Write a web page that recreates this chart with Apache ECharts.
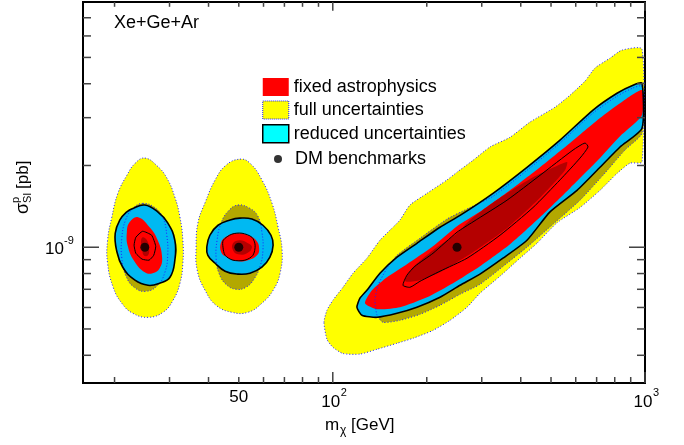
<!DOCTYPE html>
<html>
<head>
<meta charset="utf-8">
<script src="https://cdn.jsdelivr.net/npm/echarts@6/dist/echarts.min.js"></script>
<style>
  html, body { margin: 0; padding: 0; background: #fff; }
  #chart { width: 684px; height: 445px; }
</style>
</head>
<body>
<div id="chart"></div>
<script>
// axis ranges (m in GeV, sigma in pb)
const X_MIN = Math.pow(10, 1.2), X_MAX = 1000;
const Y_MIN = Math.pow(10, -9.5), Y_MAX = 8e-9;
const SIGMA_UNIT = 1e-9; // contour sigma values below are in units of 1e-9 pb

const benchmarkMass = [25, 50, 250];
const benchmarkSigma = [1e-9, 1e-9, 1e-9];

// contours, one polygon per benchmark: [mass, sigma/1e-9]
const fullOuter = [
  [[25.0,2.13],[27.3,2.0],[29.4,1.80],[31.2,1.53],[32.4,1.29],[33.1,1.06],[33.1,0.873],[32.4,0.737],[30.8,0.638],[28.6,0.576],[25.6,0.552],[22.9,0.571],[21.1,0.622],[19.8,0.712],[19.0,0.873],[19.0,1.06],[19.6,1.29],[20.5,1.58],[21.9,1.84],[23.3,2.04]],
  [[50.4,2.11],[54.3,2.04],[59.3,1.77],[63.9,1.45],[66.8,1.185],[68.8,0.975],[67.8,0.802],[64.4,0.694],[59.3,0.622],[53.5,0.576],[47.5,0.576],[42.3,0.611],[39.0,0.694],[36.8,0.823],[36.5,1.0],[37.0,1.23],[39.0,1.46],[42.0,1.77],[45.5,2.005]],
  [[93.7,0.529],[95.8,0.586],[100.1,0.638],[107.8,0.712],[116.1,0.802],[128.6,0.911],[141.6,1.061],[154.7,1.175],[164.2,1.26],[176.7,1.43],[200.4,1.58],[232.2,1.77],[250,1.89],[281.3,2.09],[318.8,2.34],[369.5,2.54],[428.2,2.89],[515,3.28],[575.2,3.63],[642.5,4.09],[691.6,4.57],[772.6,4.97],[844,5.32],[978,5.365],[978,2.06],[895,2.04],[813.5,1.87],[717.7,1.62],[619.3,1.40],[522.6,1.23],[450.9,1.034],[397.8,0.911],[343.2,0.782],[296.1,0.677],[269.1,0.601],[237.4,0.538],[209.4,0.494],[180.6,0.462],[160.6,0.443],[138.6,0.421],[122.2,0.404],[107.8,0.406],[100.1,0.428],[95.8,0.458]]
];
const fullInner = [
  [[24.6,1.45],[26.9,1.40],[28.6,1.28],[29.4,1.107],[29.6,0.934],[29.0,0.809],[27.5,0.724],[25.2,0.688],[23.1,0.712],[21.7,0.789],[21.1,0.911],[21.1,1.079],[21.7,1.26],[22.9,1.39]],
  [[49.7,1.43],[54.3,1.39],[57.6,1.30],[59.3,1.136],[59.75,0.975],[58.5,0.851],[55.9,0.762],[52.7,0.712],[49.0,0.70],[45.5,0.73],[43.2,0.802],[42.3,0.911],[42.6,1.061],[43.9,1.23],[46.3,1.36]],
  [[136.5,0.638],[139.6,0.724],[149.2,0.837],[160.6,0.934],[190.2,1.079],[232.2,1.27],[275.1,1.40],[326,1.54],[418.8,1.92],[534.3,2.42],[681.5,3.12],[813.5,3.60],[915.4,3.86],[978,3.92],[978,2.63],[862.9,2.28],[733.7,1.84],[619.3,1.49],[507.4,1.215],[418.8,1.0],[361.4,0.873],[296.1,0.730],[255.6,0.671],[220.5,0.611],[190.2,0.566],[164.2,0.538],[144.8,0.529],[138.6,0.562]]
];
const reducedOuter = [
  [[22.9,1.39],[25.0,1.43],[27.5,1.35],[29.6,1.23],[31.2,1.061],[31.2,0.896],[30.1,0.775],[27.9,0.737],[25.6,0.724],[23.25,0.756],[21.25,0.844],[20.3,0.975],[20.1,1.126],[20.8,1.26],[21.9,1.35]],
  [[39.5,1.0],[40.4,1.107],[42.9,1.205],[46.9,1.26],[50.4,1.28],[55.1,1.27],[59.75,1.205],[63.4,1.107],[64.4,1.017],[62.9,0.919],[59.3,0.844],[54.3,0.802],[49.7,0.796],[45.2,0.816],[42.0,0.873],[39.8,0.934]],
  [[119.5,0.601],[122.2,0.649],[128.6,0.694],[141.6,0.802],[160.6,0.919],[186,1.034],[220.5,1.185],[255.6,1.31],[326,1.58],[418.8,1.97],[534.3,2.48],[681.5,3.20],[813.5,3.69],[915.4,3.95],[978,4.02],[978,2.74],[831.7,2.34],[717.7,1.97],[605.7,1.62],[496.3,1.35],[418.8,1.061],[350.8,0.911],[296.1,0.796],[255.6,0.724],[220.5,0.654],[186,0.601],[160.6,0.571],[138.6,0.552],[124,0.562]]
];
const fixedOuter = [
  [[23.8,1.29],[25.9,1.185],[27.5,1.061],[28.4,0.919],[27.9,0.837],[26.5,0.802],[25.0,0.809],[23.25,0.881],[22.1,1.0],[21.9,1.136],[22.4,1.24]],
  [[43.9,1.043],[45.8,1.098],[49.3,1.126],[53.5,1.107],[56.8,1.061],[58.1,0.992],[57.2,0.934],[53.5,0.896],[49.3,0.889],[45.8,0.919],[43.9,0.958]],
  [[126.8,0.622],[138.6,0.591],[164.2,0.601],[200.4,0.654],[242.7,0.737],[296.1,0.851],[369.5,1.026],[461,1.29],[575.2,1.65],[717.7,2.13],[831.7,2.56],[978,3.06],[978,3.79],[831.7,3.39],[717.7,2.99],[575.2,2.42],[461,1.97],[369.5,1.62],[296.1,1.35],[250,1.195],[209.4,1.008],[172.8,0.866],[149.2,0.775],[133.5,0.694]]
];
const fixedInner = [
  [[24.6,1.088],[25.4,1.061],[25.8,0.992],[25.6,0.934],[24.8,0.934],[24.5,0.992],[24.3,1.043]],
  [[47.9,1.034],[50.4,1.061],[53.5,1.034],[55.1,1.0],[53.1,0.950],[49.7,0.942],[47.9,0.975]],
  [[170.3,0.749],[179.3,0.837],[209.4,0.975],[250,1.126],[275.1,1.26],[343.2,1.52],[437.8,1.81],[562.6,2.06],[554.4,1.92],[461,1.52],[361.4,1.175],[281.3,0.958],[250,0.881],[220.5,0.809],[190.2,0.756]]
];
const reducedInner = [
  [[24.6,1.145],[26.3,1.107],[27.1,1.008],[26.7,0.934],[25.8,0.896],[24.5,0.904],[23.4,0.950],[23.1,1.017],[23.4,1.088]],
  [[44.6,1.061],[47.5,1.117],[51.2,1.126],[55.1,1.088],[56.4,1.017],[55.5,0.934],[52.3,0.896],[47.9,0.896],[45.2,0.934],[44.5,1.0]],
  [[167.8,0.724],[172.8,0.789],[183.3,0.851],[209.4,0.950],[250,1.136],[281.3,1.24],[361.4,1.49],[461,1.84],[588.2,2.28],[642.5,2.42],[657,2.34],[619.3,2.13],[534.3,1.77],[437.8,1.40],[343.2,1.107],[269.1,0.911],[220.5,0.816],[190.2,0.749],[176.7,0.712]]
];

// ticks and tick labels
const xMinorTicks = [20, 30, 40, 50, 60, 70, 80, 90, 200, 300, 400, 500, 600, 700, 800, 900];
const xMajorTicks = [100, 1000];
const yMinorTicks = [4e-10, 5e-10, 6e-10, 7e-10, 8e-10, 9e-10, 2e-9, 3e-9, 4e-9, 5e-9, 6e-9, 7e-9];
const yMajorTicks = [1e-9];
const xTickLabels = [
  { value: 50, base: '50', exp: '' },
  { value: 100, base: '10', exp: '2' },
  { value: 1000, base: '10', exp: '3' }
];
const yTickLabels = [{ value: 1e-9, base: '10', exp: '-9' }];

const FONT = '"Liberation Sans", Arial, Helvetica, sans-serif';
const SMOOTH = [0.45, 0.45, 0.2];

function contourSeries(name, polys, style, z, smooth) {
  return {
    type: 'custom',
    name: name,
    coordinateSystem: 'cartesian2d',
    z: z,
    silent: true,
    data: polys.map(p => [p[0][0], p[0][1] * SIGMA_UNIT]),
    encode: { x: 0, y: 1 },
    renderItem: function (params, api) {
      const pts = polys[params.dataIndex].map(d => api.coord([d[0], d[1] * SIGMA_UNIT]));
      return {
        type: 'polygon',
        shape: { points: pts, smooth: smooth[params.dataIndex] },
        style: style
      };
    }
  };
}

function txt(x, y, text, size, align, valign) {
  return {
    type: 'text', x: x, y: y, silent: true,
    style: { text: text, fill: '#000', fontSize: size, fontFamily: FONT, align: align, verticalAlign: valign }
  };
}

function renderFrameTicks(params, api) {
  const ch = [];
  const line = (a, b) => ch.push({
    type: 'line',
    shape: { x1: a[0], y1: a[1], x2: b[0], y2: b[1] },
    style: { stroke: '#444', lineWidth: 1.5 }
  });
  const xTick = (v, len) => {
    const b = api.coord([v, Y_MIN]), t = api.coord([v, Y_MAX]);
    line(b, [b[0], b[1] - len]);
    line(t, [t[0], t[1] + len * 0.8]);
  };
  const yTick = (v, len) => {
    const l = api.coord([X_MIN, v]), r = api.coord([X_MAX, v]);
    line(l, [l[0] + len, l[1]]);
    line(r, [r[0] - len, r[1]]);
  };
  xMinorTicks.forEach(v => xTick(v, 6));
  xMajorTicks.forEach(v => xTick(v, 11));
  yMinorTicks.forEach(v => yTick(v, 8));
  yMajorTicks.forEach(v => yTick(v, 16));

  xTickLabels.forEach(l => {
    const p = api.coord([l.value, Y_MIN]);
    if (l.exp) {
      ch.push(txt(p[0] - 2, p[1] + 19, l.base, 17, 'center', 'middle'));
      ch.push(txt(p[0] + 8, p[1] + 10, l.exp, 11, 'left', 'middle'));
    } else {
      ch.push(txt(p[0], p[1] + 14, l.base, 17, 'center', 'middle'));
    }
  });
  yTickLabels.forEach(l => {
    const p = api.coord([X_MIN, l.value]);
    ch.push(txt(p[0] - 19, p[1] + 2, l.base, 17, 'right', 'middle'));
    ch.push(txt(p[0] - 19, p[1] - 6, l.exp, 11, 'left', 'middle'));
  });
  return { type: 'group', children: ch };
}

const dotted = { fill: 'none', stroke: '#1f1fff', lineWidth: 1, lineDash: [1, 2] };

const option = {
  animation: false,
  backgroundColor: '#fff',
  grid: { left: 83, right: 39, top: 2, bottom: 62, show: true, borderColor: '#000', borderWidth: 2, backgroundColor: 'transparent' },
  xAxis: {
    type: 'log', logBase: 10, min: X_MIN, max: X_MAX,
    axisLine: { show: false }, axisTick: { show: false }, axisLabel: { show: false }, splitLine: { show: false }
  },
  yAxis: {
    type: 'log', logBase: 10, min: Y_MIN, max: Y_MAX,
    axisLine: { show: false }, axisTick: { show: false }, axisLabel: { show: false }, splitLine: { show: false }
  },
  legend: [
    {
      orient: 'vertical', left: 257, top: 73, itemWidth: 26, itemHeight: 18, itemGap: 4.5,
      selectedMode: false,
      textStyle: { fontSize: 18, lineHeight: 18, fontFamily: FONT, color: '#000' },
      data: [
        { name: 'fixed astrophysics', icon: 'rect', itemStyle: { color: '#ff0000', borderWidth: 0 } },
        { name: 'full uncertainties', icon: 'rect', itemStyle: { color: '#ffff00', borderColor: '#1f1fff', borderWidth: 1, borderType: 'dotted' } },
        { name: 'reduced uncertainties', icon: 'rect', itemStyle: { color: '#00ffff', borderColor: '#000', borderWidth: 1.5 } }
      ]
    },
    {
      orient: 'vertical', left: 269, top: 145, itemWidth: 24, itemHeight: 8,
      selectedMode: false,
      textStyle: { fontSize: 18, lineHeight: 18, fontFamily: FONT, color: '#000' },
      data: [{ name: 'DM benchmarks', icon: 'circle', itemStyle: { color: '#000' } }]
    }
  ],
  graphic: [
    txt(114, 23, 'Xe+Ge+Ar', 18, 'left', 'middle'),
    txt(325, 425, 'm', 17, 'left', 'middle'),
    txt(340, 431, 'χ', 12, 'left', 'middle'),
    txt(351, 425, '[GeV]', 17, 'left', 'middle'),
    {
      type: 'group', x: 23, y: 188, rotation: Math.PI / 2,
      children: [
        txt(-26, 0, 'σ', 18, 'left', 'middle'),
        txt(-15, -7, 'p', 11, 'left', 'middle'),
        txt(-15, 5, 'SI', 11, 'left', 'middle'),
        txt(-1, 0, '[pb]', 17, 'left', 'middle')
      ]
    }
  ],
  series: [
    contourSeries('full uncertainties', fullOuter, { fill: '#ffff00' }, 2, SMOOTH),
    contourSeries('full inner', fullInner, { fill: '#b3a800' }, 3, SMOOTH),
    contourSeries('reduced uncertainties', reducedOuter, { fill: '#00b9f2' }, 4, SMOOTH),
    contourSeries('fixed astrophysics', fixedOuter, { fill: '#ff0000' }, 5, SMOOTH),
    contourSeries('fixed inner', fixedInner, { fill: '#b40000' }, 6, SMOOTH),
    contourSeries('full outline', fullOuter, dotted, 7, SMOOTH),
    contourSeries('full inner outline', fullInner, dotted, 7, SMOOTH),
    contourSeries('reduced outline', reducedOuter, { fill: 'none', stroke: '#000', lineWidth: 1.6 }, 8, SMOOTH),
    contourSeries('reduced inner', reducedInner, { fill: 'none', stroke: '#000', lineWidth: 1 }, 8, [0.15, 0.3, 0.2]),
    {
      type: 'scatter', name: 'DM benchmarks', z: 9, silent: true,
      symbol: 'circle', symbolSize: 9,
      itemStyle: { color: '#000' },
      data: benchmarkMass.map((m, i) => [m, benchmarkSigma[i]])
    },
    {
      type: 'custom', name: 'frame ticks', z: 10, silent: true,
      coordinateSystem: 'cartesian2d',
      data: [[X_MIN, Y_MIN]],
      encode: { x: 0, y: 1 },
      renderItem: renderFrameTicks
    }
  ]
};

const chart = echarts.init(document.getElementById('chart'));
chart.setOption(option);
</script>
</body>
</html>
